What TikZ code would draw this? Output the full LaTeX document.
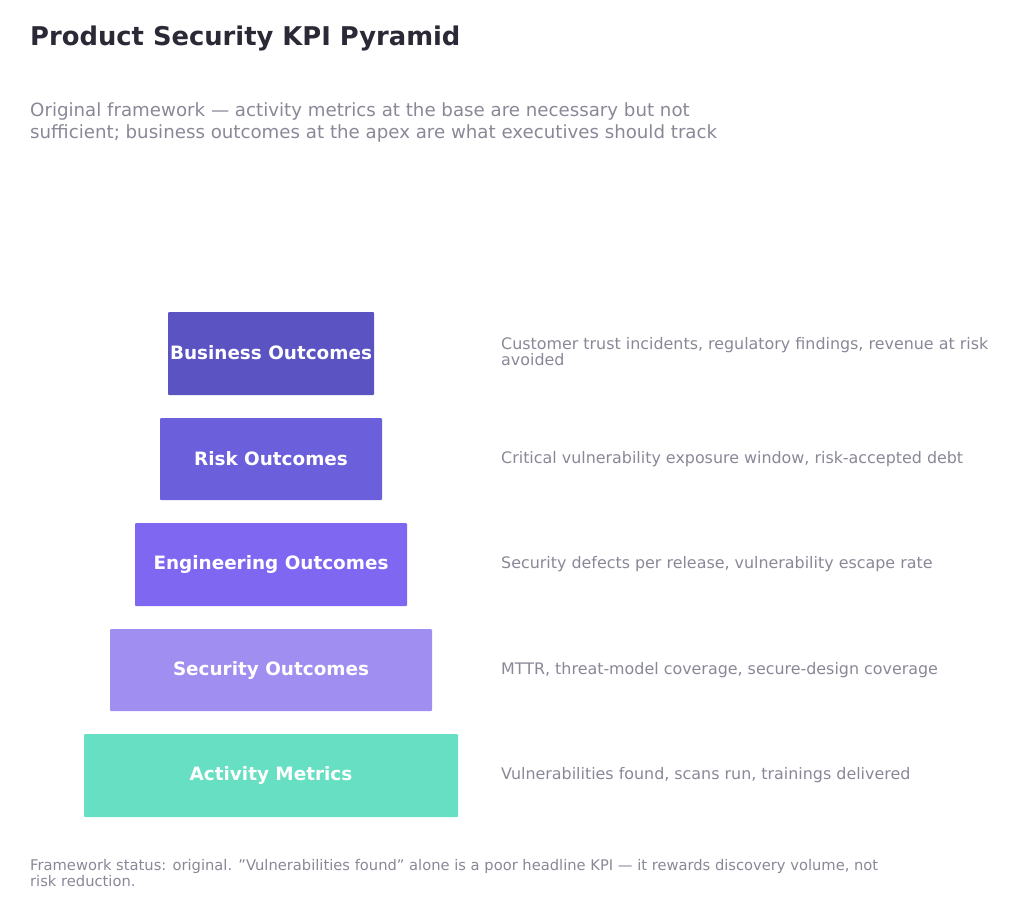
\documentclass[tikz,border=0pt]{standalone}
\usepackage{fontspec}
\setmainfont{DejaVu Sans}
\begin{document}
\begin{tikzpicture}[x=1pt,y=-1pt,
 box/.style={draw=none,text=white,font=\fontsize{18.4}{22}\selectfont\bfseries},
 desc/.style={anchor=west,text=txtgray,font=\fontsize{15.9}{18}\selectfont,align=left},
]
\definecolor{c1}{HTML}{5B53C2}
\definecolor{c2}{HTML}{6C5FDB}
\definecolor{c3}{HTML}{7F67F2}
\definecolor{c4}{HTML}{A08EF0}
\definecolor{c5}{HTML}{66DFC2}
\definecolor{txtgray}{HTML}{8A8797}
\definecolor{titlec}{HTML}{2A2935}
\useasboundingbox (0,0) rectangle (1024,910);
\node[anchor=west,inner sep=0,text=titlec,font=\fontsize{25.8}{30}\selectfont\bfseries] (title) at (30,38) {Product Security KPI Pyramid};
\node[anchor=north west,text=txtgray,font=\fontsize{18.2}{22}\selectfont,align=left,inner sep=0] (sub) at (30,102) {Original framework — activity metrics at the base are necessary but not\\sufficient; business outcomes at the apex are what executives should track};
\fill[c1,rounded corners=1pt] (168,312) rectangle (374,395); \node[box] (b1) at (271,353) {Business Outcomes};
\fill[c2,rounded corners=1pt] (160,418) rectangle (382,500); \node[box] (b2) at (271,459) {Risk Outcomes};
\fill[c3,rounded corners=1pt] (135,523) rectangle (407,606); \node[box] (b3) at (271,564) {Engineering Outcomes};
\fill[c4,rounded corners=1pt] (110,629) rectangle (432,711); \node[box] (b4) at (271,670) {Security Outcomes};
\fill[c5,rounded corners=1pt] (84,734) rectangle (458,817); \node[box] (b5) at (271,775) {Activity Metrics};
\node[desc,anchor=north west,inner sep=0,font=\fontsize{15.9}{16.5}\selectfont] (d1) at (501,337) {Customer trust incidents, regulatory findings, revenue at risk\\avoided};
\node[desc,inner sep=0] (d2) at (501,459) {Critical vulnerability exposure window, risk-accepted debt};
\node[desc,inner sep=0] (d3) at (501,564) {Security defects per release, vulnerability escape rate};
\node[desc,inner sep=0] (d4) at (501,670) {MTTR, threat-model coverage, secure-design coverage};
\node[desc,inner sep=0] (d5) at (501,775) {Vulnerabilities found, scans run, trainings delivered};
\node[anchor=north west,inner sep=0,text=txtgray,font=\fontsize{14.7}{16.5}\selectfont,align=left] (foot) at (30,859) {Framework status: original. \symbol{34}Vulnerabilities found\symbol{34} alone is a poor headline KPI — it rewards discovery volume, not\\risk reduction.};
\end{tikzpicture}
\end{document}
